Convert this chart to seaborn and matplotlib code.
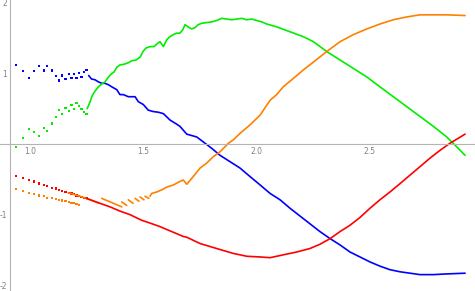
import matplotlib
matplotlib.use("Agg")
from matplotlib import pyplot as plt
from matplotlib.ticker import FixedLocator, FormatStrFormatter
import pandas as pd
import seaborn as sns

# sparse samples at the start (isolated dots)
dot_x = [0.938, 0.968, 0.994, 1.018, 1.040, 1.060, 1.076, 1.097, 1.113, 1.128,
         1.143, 1.157, 1.171, 1.183, 1.194, 1.205, 1.216, 1.227, 1.238, 1.249]
blue_dot_y = [1.12, 1.03, 0.94, 1.03, 1.11, 1.04, 1.11, 1.04, 0.96, 0.90,
              0.97, 0.92, 0.99, 0.93, 0.99, 0.94, 1.01, 0.95, 1.02, 1.05]
green_dot_y = [-0.04, 0.09, 0.21, 0.17, 0.11, 0.23, 0.18, 0.29, 0.38, 0.48,
               0.43, 0.51, 0.47, 0.55, 0.50, 0.58, 0.54, 0.50, 0.45, 0.43]
red_dot_y = [-0.45, -0.48, -0.51, -0.53, -0.56, -0.58, -0.60, -0.62, -0.63, -0.65,
             -0.66, -0.68, -0.69, -0.70, -0.71, -0.73, -0.74, -0.75, -0.76, -0.77]
orange_dot_y = [-0.64, -0.67, -0.69, -0.71, -0.73, -0.74, -0.76, -0.77, -0.78,
                -0.79, -0.80, -0.81, -0.82, -0.83, -0.84, -0.85, -0.86]

# dense part
blue_x = [1.259, 1.272, 1.287, 1.302, 1.317, 1.331, 1.346, 1.361, 1.383, 1.397,
          1.412, 1.434, 1.464, 1.478, 1.500, 1.522, 1.544, 1.567, 1.589, 1.618,
          1.648, 1.662, 1.692, 1.714, 1.736, 1.765, 1.802, 1.839, 1.883, 1.927,
          1.971, 2.016, 2.060, 2.104, 2.148, 2.192, 2.236, 2.280, 2.325, 2.369,
          2.413, 2.457, 2.501, 2.545, 2.589, 2.634, 2.678, 2.722, 2.781, 2.840, 2.921]
blue_y = [0.97, 0.92, 0.91, 0.88, 0.86, 0.86, 0.84, 0.81, 0.77, 0.70,
          0.70, 0.67, 0.67, 0.60, 0.56, 0.48, 0.46, 0.45, 0.43, 0.34,
          0.28, 0.25, 0.14, 0.12, 0.10, 0.03, -0.06, -0.16, -0.25, -0.34,
          -0.46, -0.58, -0.70, -0.79, -0.91, -1.02, -1.13, -1.24, -1.34, -1.43,
          -1.53, -1.60, -1.67, -1.73, -1.78, -1.81, -1.83, -1.85, -1.85, -1.84, -1.83]

green_x = [1.252, 1.263, 1.274, 1.287, 1.302, 1.317, 1.331, 1.344, 1.358, 1.371,
           1.384, 1.397, 1.415, 1.433, 1.450, 1.468, 1.486, 1.499, 1.512, 1.530,
           1.548, 1.561, 1.574, 1.589, 1.604, 1.618, 1.633, 1.648, 1.662, 1.675,
           1.684, 1.698, 1.714, 1.729, 1.742, 1.758, 1.780, 1.802, 1.824, 1.846,
           1.868, 1.891, 1.913, 1.935, 1.957, 1.979, 2.001, 2.023, 2.045, 2.089,
           2.148, 2.207, 2.251, 2.310, 2.369, 2.428, 2.487, 2.545, 2.604, 2.663,
           2.722, 2.781, 2.840, 2.884, 2.921]
green_y = [0.50, 0.58, 0.68, 0.75, 0.81, 0.85, 0.88, 0.94, 0.99, 1.02,
           1.09, 1.12, 1.13, 1.15, 1.18, 1.19, 1.23, 1.31, 1.36, 1.38,
           1.38, 1.42, 1.45, 1.38, 1.48, 1.52, 1.55, 1.57, 1.57, 1.62,
           1.69, 1.66, 1.63, 1.65, 1.69, 1.71, 1.72, 1.73, 1.75, 1.78,
           1.77, 1.76, 1.77, 1.78, 1.76, 1.77, 1.75, 1.73, 1.70, 1.66,
           1.59, 1.52, 1.45, 1.31, 1.19, 1.07, 0.95, 0.81, 0.67, 0.53,
           0.39, 0.25, 0.10, -0.04, -0.16]

red_x = [1.249, 1.309, 1.353, 1.397, 1.441, 1.493, 1.530, 1.574, 1.618, 1.677,
         1.692, 1.751, 1.824, 1.898, 1.957, 2.016, 2.060, 2.118, 2.177, 2.236,
         2.280, 2.325, 2.369, 2.413, 2.457, 2.501, 2.545, 2.589, 2.634, 2.678,
         2.722, 2.766, 2.810, 2.854, 2.921]
red_y = [-0.77, -0.84, -0.89, -0.95, -1.00, -1.08, -1.12, -1.17, -1.23, -1.31,
         -1.32, -1.41, -1.48, -1.55, -1.59, -1.60, -1.61, -1.57, -1.53, -1.48,
         -1.42, -1.34, -1.24, -1.15, -1.04, -0.91, -0.79, -0.68, -0.56, -0.44,
         -0.32, -0.20, -0.09, 0.01, 0.14]

# orange comes in short broken pieces before it turns into a line
orange_x = [1.168, 1.221, 1.265, 1.305,
            1.317, 1.405,
            1.405, 1.427, 1.434, 1.455, 1.464, 1.481, 1.486, 1.503, 1.508, 1.525,
            1.530, 1.537, 1.559, 1.581, 1.604, 1.633, 1.662, 1.677, 1.692, 1.721,
            1.751, 1.780, 1.809, 1.839, 1.876, 1.898, 1.927, 1.971, 2.016, 2.060,
            2.089, 2.118, 2.163, 2.207, 2.251, 2.310, 2.369, 2.428, 2.487, 2.545,
            2.604, 2.663, 2.722, 2.781, 2.840, 2.921]
orange_y = [-0.69, -0.74, -0.79, -0.84,
            -0.77, -0.89,
            -0.82, -0.87, -0.79, -0.84, -0.77, -0.81, -0.75, -0.79, -0.74, -0.77,
            -0.74, -0.70, -0.68, -0.65, -0.61, -0.58, -0.53, -0.51, -0.57, -0.46,
            -0.34, -0.27, -0.18, -0.11, 0.01, 0.06, 0.15, 0.27, 0.41, 0.62,
            0.70, 0.81, 0.93, 1.05, 1.16, 1.31, 1.45, 1.55, 1.63, 1.70,
            1.76, 1.80, 1.83, 1.83, 1.83, 1.82]
orange_part = ['b'] * 4 + ['c'] * 2 + ['s1', 's1', 's2', 's2', 's3', 's3', 's4', 's4', 's5', 's5'] \
    + ['e'] * 36

colors = {'blue': '#0000ff', 'green': '#00ee00', 'orange': '#ff8000', 'red': '#ff0000'}
axis_grey = '#b4b4b4'
label_grey = '#808080'

dots = pd.concat([
    pd.DataFrame({'x': dot_x, 'y': blue_dot_y, 'curve': 'blue'}),
    pd.DataFrame({'x': dot_x, 'y': green_dot_y, 'curve': 'green'}),
    pd.DataFrame({'x': dot_x[:len(orange_dot_y)], 'y': orange_dot_y, 'curve': 'orange'}),
    pd.DataFrame({'x': dot_x, 'y': red_dot_y, 'curve': 'red'}),
], ignore_index=True)

lines = pd.concat([
    pd.DataFrame({'x': blue_x, 'y': blue_y, 'curve': 'blue', 'seg': 'blue'}),
    pd.DataFrame({'x': green_x, 'y': green_y, 'curve': 'green', 'seg': 'green'}),
    pd.DataFrame({'x': orange_x, 'y': orange_y, 'curve': 'orange',
                  'seg': ['orange_' + p for p in orange_part]}),
    pd.DataFrame({'x': red_x, 'y': red_y, 'curve': 'red', 'seg': 'red'}),
], ignore_index=True)

sns.set_style('white')
plt.rcParams['font.family'] = ['DejaVu Sans']
plt.rcParams['axes.unicode_minus'] = False

fig = plt.figure(figsize=(4.75, 2.91), dpi=100)
ax = fig.add_axes([0, 0, 1, 1])
ax.patch.set_alpha(0)

sns.lineplot(data=lines, x='x', y='y', hue='curve', units='seg', estimator=None,
             sort=False, palette=colors, linewidth=1.2, legend=False, ax=ax)
sns.scatterplot(data=dots, x='x', y='y', hue='curve', palette=colors, marker='s',
                s=2.5, linewidth=0, legend=False, ax=ax)

ax.set_xlim(0.8675, 2.9647)
ax.set_ylim(-2.082, 2.040)
ax.set_xlabel('')
ax.set_ylabel('')

# axes cross like in the original: y axis at the left end, x axis at y = 0
ax.spines['left'].set_position(('data', 0.912))
ax.spines['bottom'].set_position(('data', 0))
ax.spines['top'].set_visible(False)
ax.spines['right'].set_visible(False)
for side in ['left', 'bottom']:
    ax.spines[side].set_color(axis_grey)
    ax.spines[side].set_linewidth(0.8)

ax.xaxis.set_major_locator(FixedLocator([1.0, 1.5, 2.0, 2.5]))
ax.xaxis.set_minor_locator(FixedLocator([1.1, 1.2, 1.3, 1.4, 1.6, 1.7, 1.8, 1.9,
                                         2.1, 2.2, 2.3, 2.4, 2.6, 2.7, 2.8, 2.9]))
ax.xaxis.set_major_formatter(FormatStrFormatter('%.1f'))
ax.yaxis.set_major_locator(FixedLocator([-2, -1, 1, 2]))
ax.yaxis.set_minor_locator(FixedLocator([-1.8, -1.6, -1.4, -1.2, -0.8, -0.6, -0.4, -0.2,
                                         0.2, 0.4, 0.6, 0.8, 1.2, 1.4, 1.6, 1.8]))
ax.yaxis.set_major_formatter(FormatStrFormatter('%d'))

ax.tick_params(which='both', direction='in', color=axis_grey, width=0.6,
               labelsize=5.5, labelcolor=label_grey)
ax.tick_params(which='major', length=3.2)
ax.tick_params(which='minor', length=1.8)
ax.tick_params(axis='x', pad=2.5)
ax.tick_params(axis='y', pad=2)

plt.savefig('out.png', dpi=100)
